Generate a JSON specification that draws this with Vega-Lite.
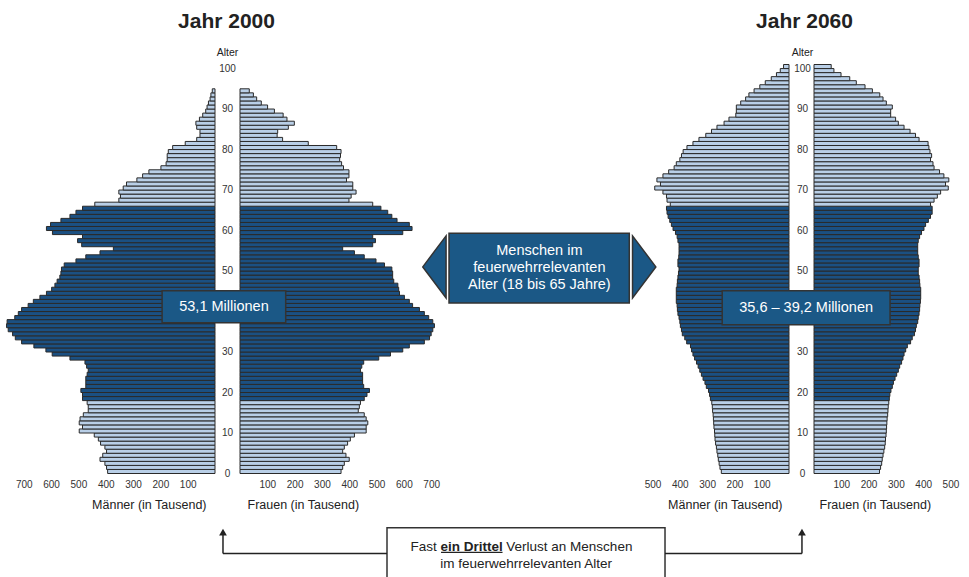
{
 "$schema": "https://vega.github.io/schema/vega-lite/v6.json",
 "padding": {"left": 0, "top": 11, "right": 0, "bottom": 0},
 "bounds": "flush",
 "spacing": 25,
 "background": "white",
 "config": {
  "view": {"stroke": null},
  "font": "Liberation Sans",
  "axis": {"grid": false, "domain": false, "ticks": false, "labelFont": "Liberation Sans", "labelColor": "#333333", "labelFontSize": 10, "titleFont": "Liberation Sans", "titleColor": "#222222", "titleFontSize": 12.5, "titleFontWeight": "normal", "labelFlush": false, "labelOverlap": false},
  "title": {"font": "Liberation Sans", "fontSize": 21, "fontWeight": "bold", "color": "#222222"}
 },
 "datasets": {
  "maenner2000": [
   {"alter":0,"tausend":393},{"alter":1,"tausend":397},{"alter":2,"tausend":403},{"alter":3,"tausend":421},{"alter":4,"tausend":411},{"alter":5,"tausend":397},{"alter":6,"tausend":403},{"alter":7,"tausend":419},{"alter":8,"tausend":427},{"alter":9,"tausend":442},
   {"alter":10,"tausend":497},{"alter":11,"tausend":485},{"alter":12,"tausend":497},{"alter":13,"tausend":494},{"alter":14,"tausend":482},{"alter":15,"tausend":464},{"alter":16,"tausend":464},{"alter":17,"tausend":468},{"alter":18,"tausend":485},{"alter":19,"tausend":485},
   {"alter":20,"tausend":491},{"alter":21,"tausend":473},{"alter":22,"tausend":473},{"alter":23,"tausend":473},{"alter":24,"tausend":468},{"alter":25,"tausend":464},{"alter":26,"tausend":470},{"alter":27,"tausend":476},{"alter":28,"tausend":531},{"alter":29,"tausend":596},
   {"alter":30,"tausend":619},{"alter":31,"tausend":663},{"alter":32,"tausend":708},{"alter":33,"tausend":731},{"alter":34,"tausend":741},{"alter":35,"tausend":757},{"alter":36,"tausend":763},{"alter":37,"tausend":761},{"alter":38,"tausend":733},{"alter":39,"tausend":720},
   {"alter":40,"tausend":708},{"alter":41,"tausend":684},{"alter":42,"tausend":665},{"alter":43,"tausend":641},{"alter":44,"tausend":617},{"alter":45,"tausend":598},{"alter":46,"tausend":586},{"alter":47,"tausend":578},{"alter":48,"tausend":568},{"alter":49,"tausend":564},
   {"alter":50,"tausend":562},{"alter":51,"tausend":552},{"alter":52,"tausend":509},{"alter":53,"tausend":473},{"alter":54,"tausend":421},{"alter":55,"tausend":372},{"alter":56,"tausend":488},{"alter":57,"tausend":503},{"alter":58,"tausend":485},{"alter":59,"tausend":595},
   {"alter":60,"tausend":617},{"alter":61,"tausend":602},{"alter":62,"tausend":564},{"alter":63,"tausend":531},{"alter":64,"tausend":509},{"alter":65,"tausend":485},{"alter":66,"tausend":440},{"alter":67,"tausend":352},{"alter":68,"tausend":346},{"alter":69,"tausend":352},
   {"alter":70,"tausend":336},{"alter":71,"tausend":324},{"alter":72,"tausend":286},{"alter":73,"tausend":265},{"alter":74,"tausend":242},{"alter":75,"tausend":198},{"alter":76,"tausend":179},{"alter":77,"tausend":175},{"alter":78,"tausend":175},{"alter":79,"tausend":171},
   {"alter":80,"tausend":155},{"alter":81,"tausend":109},{"alter":82,"tausend":67},{"alter":83,"tausend":55},{"alter":84,"tausend":55},{"alter":85,"tausend":67},{"alter":86,"tausend":70},{"alter":87,"tausend":57},{"alter":88,"tausend":45},{"alter":89,"tausend":34},
   {"alter":90,"tausend":29},{"alter":91,"tausend":24},{"alter":92,"tausend":18},{"alter":93,"tausend":15},{"alter":94,"tausend":10}
  ],
  "frauen2000": [
   {"alter":0,"tausend":370},{"alter":1,"tausend":376},{"alter":2,"tausend":382},{"alter":3,"tausend":400},{"alter":4,"tausend":388},{"alter":5,"tausend":376},{"alter":6,"tausend":382},{"alter":7,"tausend":394},{"alter":8,"tausend":404},{"alter":9,"tausend":419},
   {"alter":10,"tausend":462},{"alter":11,"tausend":462},{"alter":12,"tausend":468},{"alter":13,"tausend":462},{"alter":14,"tausend":455},{"alter":15,"tausend":433},{"alter":16,"tausend":437},{"alter":17,"tausend":441},{"alter":18,"tausend":455},{"alter":19,"tausend":465},
   {"alter":20,"tausend":474},{"alter":21,"tausend":453},{"alter":22,"tausend":449},{"alter":23,"tausend":449},{"alter":24,"tausend":449},{"alter":25,"tausend":441},{"alter":26,"tausend":446},{"alter":27,"tausend":453},{"alter":28,"tausend":508},{"alter":29,"tausend":551},
   {"alter":30,"tausend":596},{"alter":31,"tausend":620},{"alter":32,"tausend":675},{"alter":33,"tausend":694},{"alter":34,"tausend":700},{"alter":35,"tausend":706},{"alter":36,"tausend":712},{"alter":37,"tausend":706},{"alter":38,"tausend":691},{"alter":39,"tausend":675},
   {"alter":40,"tausend":657},{"alter":41,"tausend":632},{"alter":42,"tausend":620},{"alter":43,"tausend":602},{"alter":44,"tausend":584},{"alter":45,"tausend":581},{"alter":46,"tausend":578},{"alter":47,"tausend":563},{"alter":48,"tausend":559},{"alter":49,"tausend":559},
   {"alter":50,"tausend":556},{"alter":51,"tausend":529},{"alter":52,"tausend":498},{"alter":53,"tausend":455},{"alter":54,"tausend":419},{"alter":55,"tausend":376},{"alter":56,"tausend":486},{"alter":57,"tausend":496},{"alter":58,"tausend":486},{"alter":59,"tausend":596},
   {"alter":60,"tausend":630},{"alter":61,"tausend":620},{"alter":62,"tausend":575},{"alter":63,"tausend":556},{"alter":64,"tausend":541},{"alter":65,"tausend":516},{"alter":66,"tausend":486},{"alter":67,"tausend":399},{"alter":68,"tausend":407},{"alter":69,"tausend":425},
   {"alter":70,"tausend":413},{"alter":71,"tausend":413},{"alter":72,"tausend":390},{"alter":73,"tausend":399},{"alter":74,"tausend":399},{"alter":75,"tausend":379},{"alter":76,"tausend":372},{"alter":77,"tausend":365},{"alter":78,"tausend":368},{"alter":79,"tausend":370},
   {"alter":80,"tausend":354},{"alter":81,"tausend":250},{"alter":82,"tausend":156},{"alter":83,"tausend":136},{"alter":84,"tausend":138},{"alter":85,"tausend":177},{"alter":86,"tausend":199},{"alter":87,"tausend":172},{"alter":88,"tausend":158},{"alter":89,"tausend":126},
   {"alter":90,"tausend":101},{"alter":91,"tausend":78},{"alter":92,"tausend":61},{"alter":93,"tausend":49},{"alter":94,"tausend":34}
  ],
  "maenner2060": [
   {"alter":0,"tausend":248},{"alter":1,"tausend":253},{"alter":2,"tausend":256},{"alter":3,"tausend":259},{"alter":4,"tausend":261},{"alter":5,"tausend":264},{"alter":6,"tausend":266},{"alter":7,"tausend":269},{"alter":8,"tausend":271},{"alter":9,"tausend":272},
   {"alter":10,"tausend":273},{"alter":11,"tausend":275},{"alter":12,"tausend":276},{"alter":13,"tausend":277},{"alter":14,"tausend":278},{"alter":15,"tausend":280},{"alter":16,"tausend":281},{"alter":17,"tausend":283},{"alter":18,"tausend":288},{"alter":19,"tausend":291},
   {"alter":20,"tausend":295},{"alter":21,"tausend":303},{"alter":22,"tausend":308},{"alter":23,"tausend":315},{"alter":24,"tausend":321},{"alter":25,"tausend":327},{"alter":26,"tausend":333},{"alter":27,"tausend":339},{"alter":28,"tausend":346},{"alter":29,"tausend":352},
   {"alter":30,"tausend":357},{"alter":31,"tausend":361},{"alter":32,"tausend":375},{"alter":33,"tausend":382},{"alter":34,"tausend":391},{"alter":35,"tausend":394},{"alter":36,"tausend":398},{"alter":37,"tausend":400},{"alter":38,"tausend":403},{"alter":39,"tausend":407},
   {"alter":40,"tausend":409},{"alter":41,"tausend":410},{"alter":42,"tausend":413},{"alter":43,"tausend":413},{"alter":44,"tausend":413},{"alter":45,"tausend":413},{"alter":46,"tausend":410},{"alter":47,"tausend":409},{"alter":48,"tausend":407},{"alter":49,"tausend":405},
   {"alter":50,"tausend":403},{"alter":51,"tausend":407},{"alter":52,"tausend":407},{"alter":53,"tausend":404},{"alter":54,"tausend":403},{"alter":55,"tausend":403},{"alter":56,"tausend":403},{"alter":57,"tausend":407},{"alter":58,"tausend":410},{"alter":59,"tausend":416},
   {"alter":60,"tausend":425},{"alter":61,"tausend":431},{"alter":62,"tausend":437},{"alter":63,"tausend":443},{"alter":64,"tausend":447},{"alter":65,"tausend":449},{"alter":66,"tausend":435},{"alter":67,"tausend":447},{"alter":68,"tausend":449},{"alter":69,"tausend":462},
   {"alter":70,"tausend":492},{"alter":71,"tausend":471},{"alter":72,"tausend":484},{"alter":73,"tausend":462},{"alter":74,"tausend":441},{"alter":75,"tausend":421},{"alter":76,"tausend":413},{"alter":77,"tausend":400},{"alter":78,"tausend":394},{"alter":79,"tausend":388},
   {"alter":80,"tausend":374},{"alter":81,"tausend":352},{"alter":82,"tausend":330},{"alter":83,"tausend":305},{"alter":84,"tausend":284},{"alter":85,"tausend":264},{"alter":86,"tausend":238},{"alter":87,"tausend":220},{"alter":88,"tausend":195},{"alter":89,"tausend":193},
   {"alter":90,"tausend":193},{"alter":91,"tausend":177},{"alter":92,"tausend":159},{"alter":93,"tausend":147},{"alter":94,"tausend":128},{"alter":95,"tausend":107},{"alter":96,"tausend":87},{"alter":97,"tausend":65},{"alter":98,"tausend":46},{"alter":99,"tausend":32},
   {"alter":100,"tausend":20}
  ],
  "frauen2060": [
   {"alter":0,"tausend":240},{"alter":1,"tausend":244},{"alter":2,"tausend":248},{"alter":3,"tausend":250},{"alter":4,"tausend":253},{"alter":5,"tausend":256},{"alter":6,"tausend":259},{"alter":7,"tausend":261},{"alter":8,"tausend":262},{"alter":9,"tausend":264},
   {"alter":10,"tausend":265},{"alter":11,"tausend":266},{"alter":12,"tausend":267},{"alter":13,"tausend":268},{"alter":14,"tausend":270},{"alter":15,"tausend":271},{"alter":16,"tausend":272},{"alter":17,"tausend":274},{"alter":18,"tausend":276},{"alter":19,"tausend":278},
   {"alter":20,"tausend":282},{"alter":21,"tausend":287},{"alter":22,"tausend":291},{"alter":23,"tausend":297},{"alter":24,"tausend":303},{"alter":25,"tausend":309},{"alter":26,"tausend":314},{"alter":27,"tausend":321},{"alter":28,"tausend":326},{"alter":29,"tausend":330},
   {"alter":30,"tausend":336},{"alter":31,"tausend":342},{"alter":32,"tausend":354},{"alter":33,"tausend":360},{"alter":34,"tausend":368},{"alter":35,"tausend":372},{"alter":36,"tausend":375},{"alter":37,"tausend":380},{"alter":38,"tausend":382},{"alter":39,"tausend":385},
   {"alter":40,"tausend":387},{"alter":41,"tausend":388},{"alter":42,"tausend":390},{"alter":43,"tausend":391},{"alter":44,"tausend":391},{"alter":45,"tausend":391},{"alter":46,"tausend":388},{"alter":47,"tausend":387},{"alter":48,"tausend":385},{"alter":49,"tausend":382},
   {"alter":50,"tausend":382},{"alter":51,"tausend":385},{"alter":52,"tausend":385},{"alter":53,"tausend":382},{"alter":54,"tausend":380},{"alter":55,"tausend":380},{"alter":56,"tausend":380},{"alter":57,"tausend":382},{"alter":58,"tausend":387},{"alter":59,"tausend":394},
   {"alter":60,"tausend":403},{"alter":61,"tausend":409},{"alter":62,"tausend":419},{"alter":63,"tausend":427},{"alter":64,"tausend":433},{"alter":65,"tausend":433},{"alter":66,"tausend":427},{"alter":67,"tausend":440},{"alter":68,"tausend":452},{"alter":69,"tausend":464},
   {"alter":70,"tausend":492},{"alter":71,"tausend":482},{"alter":72,"tausend":494},{"alter":73,"tausend":476},{"alter":74,"tausend":460},{"alter":75,"tausend":440},{"alter":76,"tausend":436},{"alter":77,"tausend":427},{"alter":78,"tausend":431},{"alter":79,"tausend":425},
   {"alter":80,"tausend":421},{"alter":81,"tausend":418},{"alter":82,"tausend":385},{"alter":83,"tausend":372},{"alter":84,"tausend":352},{"alter":85,"tausend":330},{"alter":86,"tausend":309},{"alter":87,"tausend":299},{"alter":88,"tausend":281},{"alter":89,"tausend":281},
   {"alter":90,"tausend":287},{"alter":91,"tausend":265},{"alter":92,"tausend":253},{"alter":93,"tausend":241},{"alter":94,"tausend":214},{"alter":95,"tausend":187},{"alter":96,"tausend":155},{"alter":97,"tausend":131},{"alter":98,"tausend":99},{"alter":99,"tausend":73},
   {"alter":100,"tausend":63}
  ]
 },
 "hconcat": [
  {
   "width": 215, "height": 409,
   "title": {"text": "Jahr 2000", "anchor": "end", "align": "center", "dx": 11, "offset": 15, "baseline": "alphabetic"},
   "data": {"name": "maenner2000"},
   "mark": {"type": "bar", "stroke": "#2a2a2a", "strokeWidth": 1, "binSpacing": 0},
   "encoding": {
    "y": {"field": "alter", "type": "quantitative", "bin": {"step": 1, "extent": [0, 101], "nice": false}, "scale": {"domain": [0, 101]}, "axis": null},
    "x": {"field": "tausend", "type": "quantitative", "scale": {"domain": [0, 787], "reverse": true}, "axis": {"values": [100, 200, 300, 400, 500, 600, 700], "labelOverlap": false, "title": "Männer (in Tausend)", "titleX": 206, "titleAlign": "right", "labelPadding": 6, "titlePadding": 9}},
    "color": {"condition": {"test": "datum.alter >= 18 && datum.alter <= 65", "value": "#1b5082"}, "value": "#b9cfe7"}
   }
  },
  {
   "width": 198, "height": 409,
   "data": {"name": "frauen2000"},
   "mark": {"type": "bar", "stroke": "#2a2a2a", "strokeWidth": 1, "binSpacing": 0},
   "encoding": {
    "y": {"field": "alter", "type": "quantitative", "bin": {"step": 1, "extent": [0, 101], "nice": false}, "scale": {"domain": [0, 101]}, "axis": {"values": [0, 10, 20, 30, 40, 50, 60, 70, 80, 90, 100], "labelOverlap": false, "orient": "left", "labelAlign": "center", "labelBaseline": "middle", "labelPadding": 13, "tickSize": 0, "title": "Alter", "titleAngle": 0, "titleX": -13, "titleY": -12, "titleAlign": "center", "titleBaseline": "middle", "titleFontSize": 10.5}},
    "x": {"field": "tausend", "type": "quantitative", "scale": {"domain": [0, 725]}, "axis": {"values": [100, 200, 300, 400, 500, 600, 700], "labelOverlap": false, "title": "Frauen (in Tausend)", "titleAnchor": "start", "titleAlign": "left", "titleX": 7, "labelPadding": 6, "titlePadding": 9}},
    "color": {"condition": {"test": "datum.alter >= 18 && datum.alter <= 65", "value": "#1b5082"}, "value": "#b9cfe7"}
   }
  },
  {
   "width": 152, "height": 409,
   "data": {"values": [{}]},
   "layer": [
    {
     "mark": {"type": "rect", "fill": "#1b5886", "stroke": "#333333", "strokeWidth": 1.5},
     "encoding": {
      "x": {"datum": -4.959, "type": "quantitative", "scale": {"domain": [-1, 1]}, "axis": null},
      "x2": {"datum": -3.333},
      "y": {"datum": 45, "type": "quantitative", "scale": {"domain": [0, 101]}, "axis": null},
      "y2": {"datum": 37.1}
     }
    },
    {
     "mark": {"type": "text", "color": "white", "fontSize": 14.5, "align": "center", "baseline": "middle"},
     "encoding": {
      "x": {"datum": -4.145, "type": "quantitative", "scale": {"domain": [-1, 1]}, "axis": null},
      "y": {"datum": 41, "type": "quantitative", "scale": {"domain": [0, 101]}, "axis": null},
      "text": {"value": "53,1 Millionen"}
     }
    },
    {
     "mark": {"type": "point", "shape": "M0.376,-1L-0.376,0L0.376,1Z", "size": 3844, "filled": true, "fill": "#1b5886", "stroke": "#333333", "strokeWidth": 1.5, "opacity": 1},
     "encoding": {
      "x": {"datum": -1.376, "type": "quantitative", "scale": {"domain": [-1, 1]}, "axis": null},
      "y": {"datum": 50.9, "type": "quantitative", "scale": {"domain": [0, 101]}, "axis": null}
     }
    },
    {
     "mark": {"type": "point", "shape": "M-0.376,-1L0.376,0L-0.376,1Z", "size": 3844, "filled": true, "fill": "#1b5886", "stroke": "#333333", "strokeWidth": 1.5, "opacity": 1},
     "encoding": {
      "x": {"datum": 1.384, "type": "quantitative", "scale": {"domain": [-1, 1]}, "axis": null},
      "y": {"datum": 50.9, "type": "quantitative", "scale": {"domain": [0, 101]}, "axis": null}
     }
    },
    {
     "mark": {"type": "rect", "fill": "#1b5886", "stroke": "#333333", "strokeWidth": 1.5},
     "encoding": {
      "x": {"datum": -1.184, "type": "quantitative", "scale": {"domain": [-1, 1]}, "axis": null},
      "x2": {"datum": 1.188},
      "y": {"datum": 59.2, "type": "quantitative", "scale": {"domain": [0, 101]}, "axis": null},
      "y2": {"datum": 41.95}
     }
    },
    {
     "mark": {"type": "text", "color": "white", "fontSize": 14.5, "align": "center", "baseline": "middle", "lineHeight": 17},
     "encoding": {
      "x": {"datum": 0.005, "type": "quantitative", "scale": {"domain": [-1, 1]}, "axis": null},
      "y": {"datum": 54.9, "type": "quantitative", "scale": {"domain": [0, 101]}, "axis": null},
      "text": {"value": ["Menschen im", "feuerwehrrelevanten", "Alter (18 bis 65 Jahre)"]}
     }
    },
    {
     "mark": {"type": "rect", "fill": "white", "stroke": "#333333", "strokeWidth": 1.5},
     "encoding": {
      "x": {"datum": -2.0, "type": "quantitative", "scale": {"domain": [-1, 1]}, "axis": null},
      "x2": {"datum": 1.658},
      "y": {"datum": -13.5, "type": "quantitative", "scale": {"domain": [0, 101]}, "axis": null},
      "y2": {"datum": -26.5}
     }
    },
    {
     "mark": {"type": "rule", "stroke": "#222222", "strokeWidth": 1.5},
     "encoding": {
      "x": {"datum": -4.158, "type": "quantitative", "scale": {"domain": [-1, 1]}, "axis": null},
      "x2": {"datum": -2.0},
      "y": {"datum": -19.9, "type": "quantitative", "scale": {"domain": [0, 101]}, "axis": null}
     }
    },
    {
     "mark": {"type": "rule", "stroke": "#222222", "strokeWidth": 1.5},
     "encoding": {
      "x": {"datum": 1.658, "type": "quantitative", "scale": {"domain": [-1, 1]}, "axis": null},
      "x2": {"datum": 3.46},
      "y": {"datum": -19.9, "type": "quantitative", "scale": {"domain": [0, 101]}, "axis": null}
     }
    },
    {
     "mark": {"type": "rule", "stroke": "#222222", "strokeWidth": 1.5},
     "encoding": {
      "x": {"datum": -4.158, "type": "quantitative", "scale": {"domain": [-1, 1]}, "axis": null},
      "y": {"datum": -19.9, "type": "quantitative", "scale": {"domain": [0, 101]}, "axis": null},
      "y2": {"datum": -15.3}
     }
    },
    {
     "mark": {"type": "rule", "stroke": "#222222", "strokeWidth": 1.5},
     "encoding": {
      "x": {"datum": 3.46, "type": "quantitative", "scale": {"domain": [-1, 1]}, "axis": null},
      "y": {"datum": -19.9, "type": "quantitative", "scale": {"domain": [0, 101]}, "axis": null},
      "y2": {"datum": -15.3}
     }
    },
    {
     "mark": {"type": "point", "shape": "triangle-up", "size": 60, "filled": true, "fill": "#222222", "opacity": 1},
     "encoding": {
      "x": {"datum": -4.158, "type": "quantitative", "scale": {"domain": [-1, 1]}, "axis": null},
      "y": {"datum": -14.6, "type": "quantitative", "scale": {"domain": [0, 101]}, "axis": null}
     }
    },
    {
     "mark": {"type": "point", "shape": "triangle-up", "size": 60, "filled": true, "fill": "#222222", "opacity": 1},
     "encoding": {
      "x": {"datum": 3.46, "type": "quantitative", "scale": {"domain": [-1, 1]}, "axis": null},
      "y": {"datum": -14.6, "type": "quantitative", "scale": {"domain": [0, 101]}, "axis": null}
     }
    },
    {
     "mark": {"type": "text", "color": "#222222", "fontSize": 13.5, "align": "right", "baseline": "middle"},
     "encoding": {
      "x": {"datum": -1.345, "type": "quantitative", "scale": {"domain": [-1, 1]}, "axis": null},
      "y": {"datum": -18.3, "type": "quantitative", "scale": {"domain": [0, 101]}, "axis": null},
      "text": {"value": "Fast"}
     }
    },
    {
     "mark": {"type": "text", "color": "#222222", "fontSize": 13.5, "fontWeight": "bold", "align": "center", "baseline": "middle"},
     "encoding": {
      "x": {"datum": -0.888, "type": "quantitative", "scale": {"domain": [-1, 1]}, "axis": null},
      "y": {"datum": -18.3, "type": "quantitative", "scale": {"domain": [0, 101]}, "axis": null},
      "text": {"value": "ein Drittel"}
     }
    },
    {
     "mark": {"type": "rule", "stroke": "#222222", "strokeWidth": 1.2},
     "encoding": {
      "x": {"datum": -1.289, "type": "quantitative", "scale": {"domain": [-1, 1]}, "axis": null},
      "x2": {"datum": -0.480},
      "y": {"datum": -19.6, "type": "quantitative", "scale": {"domain": [0, 101]}, "axis": null}
     }
    },
    {
     "mark": {"type": "text", "color": "#222222", "fontSize": 13.5, "align": "left", "baseline": "middle"},
     "encoding": {
      "x": {"datum": -0.43, "type": "quantitative", "scale": {"domain": [-1, 1]}, "axis": null},
      "y": {"datum": -18.3, "type": "quantitative", "scale": {"domain": [0, 101]}, "axis": null},
      "text": {"value": "Verlust an Menschen"}
     }
    },
    {
     "mark": {"type": "text", "color": "#222222", "fontSize": 13.5, "align": "center", "baseline": "middle"},
     "encoding": {
      "x": {"datum": -0.17, "type": "quantitative", "scale": {"domain": [-1, 1]}, "axis": null},
      "y": {"datum": -22.5, "type": "quantitative", "scale": {"domain": [0, 101]}, "axis": null},
      "text": {"value": "im feuerwehrrelevanten Alter"}
     }
    }
   ]
  },
  {
   "width": 149, "height": 409,
   "title": {"text": "Jahr 2060", "anchor": "end", "align": "center", "dx": 15, "offset": 15, "baseline": "alphabetic"},
   "data": {"name": "maenner2060"},
   "mark": {"type": "bar", "stroke": "#2a2a2a", "strokeWidth": 1, "binSpacing": 0},
   "encoding": {
    "y": {"field": "alter", "type": "quantitative", "bin": {"step": 1, "extent": [0, 101], "nice": false}, "scale": {"domain": [0, 101]}, "axis": null},
    "x": {"field": "tausend", "type": "quantitative", "scale": {"domain": [0, 546], "reverse": true}, "axis": {"values": [100, 200, 300, 400, 500], "labelOverlap": false, "title": "Männer (in Tausend)", "titleX": 142, "titleAlign": "right", "labelPadding": 6, "titlePadding": 9}},
    "color": {"condition": {"test": "datum.alter >= 18 && datum.alter <= 65", "value": "#1b5082"}, "value": "#b9cfe7"}
   }
  },
  {
   "width": 140, "height": 409,
   "data": {"name": "frauen2060"},
   "mark": {"type": "bar", "stroke": "#2a2a2a", "strokeWidth": 1, "binSpacing": 0},
   "encoding": {
    "y": {"field": "alter", "type": "quantitative", "bin": {"step": 1, "extent": [0, 101], "nice": false}, "scale": {"domain": [0, 101]}, "axis": {"values": [0, 10, 20, 30, 40, 50, 60, 70, 80, 90, 100], "labelOverlap": false, "orient": "left", "labelAlign": "center", "labelBaseline": "middle", "labelPadding": 12, "tickSize": 0, "title": "Alter", "titleAngle": 0, "titleX": -12, "titleY": -12, "titleAlign": "center", "titleBaseline": "middle", "titleFontSize": 10.5}},
    "x": {"field": "tausend", "type": "quantitative", "scale": {"domain": [0, 513]}, "axis": {"values": [100, 200, 300, 400, 500], "labelOverlap": false, "title": "Frauen (in Tausend)", "titleAnchor": "start", "titleAlign": "left", "titleX": 5, "labelPadding": 6, "titlePadding": 9}},
    "color": {"condition": {"test": "datum.alter >= 18 && datum.alter <= 65", "value": "#1b5082"}, "value": "#b9cfe7"}
   }
  },
  {
   "width": 1, "height": 409,
   "data": {"values": [{}]},
   "layer": [
    {
     "mark": {"type": "rect", "fill": "#1b5886", "stroke": "#333333", "strokeWidth": 1.5},
     "encoding": {
      "x": {"datum": -338, "type": "quantitative", "scale": {"domain": [604.4, 608.07]}, "axis": null},
      "x2": {"datum": 278},
      "y": {"datum": 45, "type": "quantitative", "scale": {"domain": [0, 101]}, "axis": null},
      "y2": {"datum": 36.6}
     }
    },
    {
     "mark": {"type": "text", "color": "white", "fontSize": 14.5, "align": "center", "baseline": "middle"},
     "encoding": {
      "x": {"datum": -30, "type": "quantitative", "scale": {"domain": [604.4, 608.07]}, "axis": null},
      "y": {"datum": 40.8, "type": "quantitative", "scale": {"domain": [0, 101]}, "axis": null},
      "text": {"value": "35,6 – 39,2 Millionen"}
     }
    }
   ]
  }
 ]
}
